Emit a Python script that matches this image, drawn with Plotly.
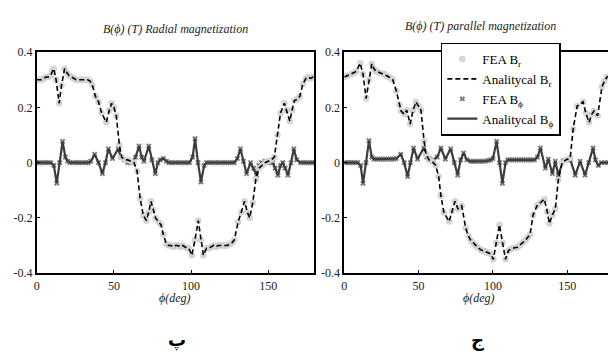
import plotly.graph_objects as go

# ---------------- data ----------------
# Left panel: radial magnetization
rad_br_phi = [0, 1.5, 3, 4.5, 6, 7.5, 9, 10, 11, 12.5, 14.5, 16, 18, 19.5, 21, 22.5, 24, 25.5, 27, 28.5, 30, 31.5,
              33, 34.5, 36, 38, 40, 42, 45, 47, 48.5, 50, 51.5, 53.5, 55, 57, 59, 61, 63, 65, 67, 69, 71, 72.5,
              74, 75.5, 77, 79, 80.5, 82, 84, 85.5, 87, 88.5, 90, 91.5, 93, 94.5, 96, 97.5, 98.5, 100.5, 102.5,
              104.7, 106.5, 108, 110, 111.5, 113, 114.5, 116, 117.5, 119, 120.5, 122, 123.5, 125, 126.5, 128,
              130.5, 132.5, 134.7, 136.5, 138, 140, 142, 144, 146, 148, 150, 152, 154, 156, 158, 160.5, 162, 164,
              165.5, 167, 169, 170.5, 172.5, 174.5, 176, 177.5, 179, 180]
rad_br_val = [0.30, 0.30, 0.30, 0.305, 0.31, 0.31, 0.315, 0.33, 0.34, 0.30, 0.215, 0.28, 0.34, 0.325, 0.315, 0.31,
              0.305, 0.30, 0.30, 0.30, 0.30, 0.30, 0.30, 0.295, 0.28, 0.24, 0.22, 0.18, 0.146, 0.19, 0.215, 0.20,
              0.17, 0.065, 0.02, 0.01, 0.01, 0.005, 0.0, -0.03, -0.13, -0.19, -0.21, -0.18, -0.14, -0.17, -0.20,
              -0.215, -0.225, -0.26, -0.295, -0.30, -0.30, -0.305, -0.30, -0.30, -0.305, -0.30, -0.305, -0.31,
              -0.31, -0.335, -0.28, -0.21, -0.28, -0.335, -0.31, -0.31, -0.305, -0.30, -0.305, -0.30, -0.30,
              -0.30, -0.30, -0.30, -0.295, -0.29, -0.28, -0.215, -0.18, -0.14, -0.18, -0.20, -0.145, -0.06,
              -0.02, -0.01, 0.0, 0.005, 0.01, 0.02, 0.10, 0.18, 0.215, 0.19, 0.15, 0.19, 0.225, 0.23, 0.24,
              0.285, 0.305, 0.31, 0.305, 0.31, 0.31]
rad_bp_phi = [0, 1.5, 3, 4.5, 6, 7.5, 9, 11, 12.9, 14.8, 16.7, 18.5, 20, 21.5, 23, 24.5, 26, 27.5, 29, 30.5, 32,
              33.5, 35, 37.5, 40, 42.5, 44.5, 46.4, 49, 52.8, 54.5, 56.7, 59, 60.5, 61.8, 64, 66.3, 68, 69.5, 72.6,
              74.5, 76.8, 78.5, 80, 82, 84, 85.5, 87, 88.5, 90, 91.5, 93, 94.5, 96, 97.5, 99, 101, 102.6, 104.5,
              106.4, 108.5, 110, 111.5, 113, 114.5, 116, 117.5, 119, 120.5, 122, 123.5, 125, 126.5, 128, 130,
              132, 134, 136, 138.6, 140.5, 142.4, 144, 145.6, 148, 150, 151.5, 153, 154.5, 156.3, 158, 159.5,
              161, 162.8, 164.8, 166.6, 168.5, 171, 172.5, 174, 175.5, 177, 178.5, 180]
rad_bp_val = [0.0, 0.0, 0.0, 0.0, 0.0, 0.0, 0.0, -0.01, -0.074, 0.0, 0.077, 0.02, 0.005, 0.0, 0.0, 0.0, 0.0, 0.0,
              0.0, 0.0, 0.0, 0.0, 0.005, 0.03, 0.0, -0.04, 0.0, 0.05, 0.015, 0.05, 0.02, 0.01, 0.0, 0.0, 0.0,
              0.02, 0.06, 0.02, 0.005, 0.06, 0.01, -0.04, 0.0, 0.01, 0.015, 0.005, 0.0, 0.0, 0.0, 0.0, 0.0, 0.0,
              0.0, 0.0, 0.0, 0.0, 0.02, 0.087, 0.0, -0.07, -0.01, 0.0, 0.0, 0.0, 0.0, 0.0, 0.0, 0.0, 0.0, 0.0,
              0.0, 0.0, 0.0, 0.0, 0.015, 0.05, 0.005, -0.04, 0.0, -0.02, -0.045, -0.01, 0.0, 0.005, 0.0, 0.0,
              0.0, -0.02, -0.045, -0.01, 0.0, -0.02, -0.045, 0.0, 0.05, 0.01, 0.0, 0.0, 0.0, 0.0, 0.0, 0.0, 0.0]

# Right panel: parallel magnetization
par_br_phi = [0, 2, 4.7, 6.5, 8, 10.7, 12.6, 14.7, 16.5, 18.5, 20, 21.4, 22.7, 24, 25.5, 27, 28.5, 30, 31.3, 32.6,
              35, 37, 38.2, 40.4, 42, 44.3, 46.3, 48.2, 50, 51.6, 53.7, 55, 57, 59, 61.5, 63.5, 65, 67, 70.5,
              72.5, 74.5, 76.5, 79, 81.7, 83.5, 85, 86.3, 87.5, 88.6, 89.7, 91.7, 93, 94, 95, 96, 97.2, 98.4,
              100.3, 102.3, 104.4, 106.5, 108.5, 110.5, 111.8, 113, 114.7, 116.5, 117.8, 119, 120.5, 122, 123.5,
              125, 127, 129.7, 132, 134.6, 136.6, 138, 140, 142, 144, 146.6, 149, 152, 154, 156.7, 160.7, 162.5,
              164.7, 166.5, 168, 170.5, 173.4, 175, 176.8, 178.5, 180]
par_br_val = [0.31, 0.315, 0.32, 0.325, 0.33, 0.36, 0.32, 0.233, 0.30, 0.358, 0.34, 0.33, 0.328, 0.325, 0.322,
              0.32, 0.315, 0.31, 0.305, 0.30, 0.26, 0.21, 0.187, 0.175, 0.19, 0.14, 0.19, 0.22, 0.205, 0.19,
              0.077, 0.03, 0.01, 0.005, -0.01, -0.05, -0.12, -0.18, -0.213, -0.175, -0.14, -0.167, -0.156,
              -0.237, -0.265, -0.28, -0.288, -0.295, -0.30, -0.306, -0.315, -0.318, -0.32, -0.322, -0.325,
              -0.328, -0.33, -0.35, -0.29, -0.225, -0.29, -0.35, -0.318, -0.314, -0.31, -0.308, -0.306, -0.30,
              -0.295, -0.288, -0.28, -0.27, -0.26, -0.19, -0.156, -0.145, -0.132, -0.178, -0.22, -0.19, -0.167,
              -0.063, 0.0, 0.01, 0.017, 0.122, 0.205, 0.22, 0.18, 0.146, 0.175, 0.187, 0.17, 0.275, 0.295, 0.31,
              0.312, 0.315]
par_bp_phi = [0, 1.5, 3, 4.5, 6, 7.5, 9, 11, 12.6, 14.6, 16.6, 18.5, 20, 21.5, 23, 24.5, 26, 27.5, 29, 30.5, 32,
              33.5, 35, 38, 40.3, 42.6, 44.5, 46.6, 49.3, 53.5, 55.5, 57, 60, 62.5, 65, 68, 71.6, 74, 76.3, 78.3,
              80.3, 82.5, 85, 86.5, 88, 89.5, 91, 92.5, 94, 95.5, 97, 98.5, 100, 102.5, 104.5, 106.4, 108.5, 110,
              111.5, 113, 114.5, 116, 117.5, 119, 120.5, 122, 123.5, 125, 126.5, 128, 130, 132, 135.3, 137.3, 140,
              142, 144, 147.3, 150, 152, 155.4, 158.7, 162, 164.5, 167.4, 169, 171, 173, 175.4, 177, 178.5, 180]
par_bp_val = [0.0, 0.0, 0.0, 0.0, 0.0, 0.0, 0.0, -0.01, -0.075, 0.0, 0.08, 0.02, 0.013, 0.013, 0.013, 0.013,
              0.013, 0.013, 0.013, 0.013, 0.013, 0.013, 0.015, 0.03, 0.0, -0.05, 0.0, 0.053, 0.013, 0.053, 0.02,
              0.015, 0.01, 0.02, 0.053, 0.013, 0.05, 0.0, -0.045, 0.01, 0.035, 0.01, 0.005, 0.005, 0.005, 0.005,
              0.005, 0.005, 0.005, 0.006, 0.008, 0.01, 0.015, 0.077, 0.0, -0.075, 0.0, 0.01, 0.01, 0.01, 0.01,
              0.01, 0.01, 0.01, 0.01, 0.01, 0.01, 0.01, 0.01, 0.01, 0.02, 0.053, -0.02, 0.013, -0.04, 0.005,
              -0.045, 0.007, 0.01, 0.013, -0.045, 0.005, -0.045, 0.0, 0.053, 0.01, -0.01, 0.0, 0.0, 0.0, 0.0, 0.0]

y_tick_vals = [-0.4, -0.2, 0, 0.2, 0.4]
y_tick_text = ["-0.4", "-0.2", "0", "0.2", "0.4"]
x_tick_vals = [0, 50, 100, 150]
x_tick_text = ["0", "50", "100", "150"]

titles = ["B(ϕ) (T) Radial magnetization", "B(ϕ) (T) parallel magnetization"]
x_label = "ϕ(deg)"
panel_letters = ["پ", "ج"]
legend_names = ["FEA B<sub>r</sub>", "Analitycal B<sub>r</sub>", "FEA B<sub>ϕ</sub>", "Analitycal B<sub>ϕ</sub>"]

# ---------------- figure ----------------
W, H = 608, 358
SERIF = "Liberation Serif"

fig = go.Figure()

panels = [
    (rad_br_phi, rad_br_val, rad_bp_phi, rad_bp_val, "x", "y", False),
    (par_br_phi, par_br_val, par_bp_phi, par_bp_val, "x2", "y2", True),
]

for br_phi, br_val, bp_phi, bp_val, xa, ya, show in panels:
    fig.add_trace(go.Scatter(x=bp_phi, y=bp_val, mode="markers", name=legend_names[2],
                             marker=dict(symbol="x", size=5, color="#808080"),
                             xaxis=xa, yaxis=ya, showlegend=show, legendrank=3))
    fig.add_trace(go.Scatter(x=bp_phi, y=bp_val, mode="lines", name=legend_names[3],
                             line=dict(color="#3c3c3c", width=2.2),
                             xaxis=xa, yaxis=ya, showlegend=show, legendrank=4))
    fig.add_trace(go.Scatter(x=br_phi, y=br_val, mode="markers", name=legend_names[0],
                             marker=dict(symbol="circle", size=6, color="#d6d6d6",
                                         line=dict(color="#c8c8c8", width=0.5)),
                             xaxis=xa, yaxis=ya, showlegend=show, legendrank=1))
    fig.add_trace(go.Scatter(x=br_phi, y=br_val, mode="lines", name=legend_names[1],
                             line=dict(color="black", width=1.6, dash="5px,3px"),
                             xaxis=xa, yaxis=ya, showlegend=show, legendrank=2))

def xpx(p):
    return p / W

def ypx(p):
    return 1 - p / H

axis_common = dict(showline=True, linecolor="black", linewidth=2, ticks="inside", ticklen=3,
                   tickcolor="black", showgrid=False, zeroline=False,
                   tickfont=dict(family=SERIF, size=12, color="#222"))

fig.update_layout(
    width=W, height=H,
    margin=dict(l=0, r=0, t=0, b=0),
    paper_bgcolor="white", plot_bgcolor="white",
    xaxis=dict(domain=[xpx(34), xpx(313)], range=[0, 180], tickvals=x_tick_vals, ticktext=x_tick_text,
               mirror=True, anchor="y", **axis_common),
    yaxis=dict(domain=[ypx(277), ypx(47)], range=[-0.4, 0.4], tickvals=y_tick_vals, ticktext=y_tick_text,
               mirror=True, anchor="x", **axis_common),
    xaxis2=dict(domain=[xpx(343), 1.0], range=[0, (608 - 343) / 224 * 150], tickvals=x_tick_vals,
                ticktext=x_tick_text, mirror=True, anchor="y2", **axis_common),
    yaxis2=dict(domain=[ypx(277), ypx(47)], range=[-0.4, 0.4], tickvals=y_tick_vals, ticktext=y_tick_text,
                mirror=False, anchor="x2", **axis_common),
    legend=dict(x=xpx(440), y=ypx(37), xanchor="left", yanchor="top",
                bgcolor="white", bordercolor="black", borderwidth=1.5,
                font=dict(family=SERIF, size=13, color="black"),
                itemwidth=30, tracegroupgap=0),
    showlegend=True,
)

annotations = [
    dict(x=xpx(173), y=ypx(23), text="<i>" + titles[0] + "</i>"),
    dict(x=xpx(480), y=ypx(20), text="<i>" + titles[1] + "</i>"),
    dict(x=xpx(173), y=ypx(303), text="<i>" + x_label + "</i>"),
    dict(x=xpx(478), y=ypx(303), text="<i>" + x_label + "</i>"),
]
for a in annotations:
    a.update(xref="paper", yref="paper", showarrow=False, xanchor="center", yanchor="middle",
             font=dict(family=SERIF, size=12, color="#222"))
for xp, letter in zip([175, 477], panel_letters):
    annotations.append(dict(x=xpx(xp), y=ypx(347), xref="paper", yref="paper", text="<b>" + letter + "</b>",
                            showarrow=False, xanchor="center", yanchor="middle",
                            font=dict(family="DejaVu Sans", size=18, color="black")))
fig.update_layout(annotations=annotations)

fig.write_html("out.html")
